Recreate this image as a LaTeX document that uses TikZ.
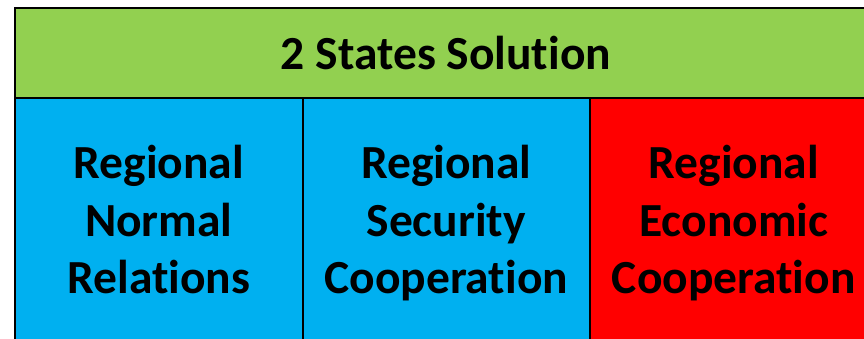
\documentclass[tikz,border=0pt]{standalone}
\usepackage{fontspec}
\setmainfont{Carlito}[Ligatures=NoCommon]
\usetikzlibrary{positioning}
\definecolor{verde}{HTML}{92D050}
\definecolor{azul}{HTML}{00B0F0}
\definecolor{vermelho}{HTML}{FF0000}
\begin{document}
\begin{tikzpicture}[x=1pt, y=-1pt,
                topo/.style={draw=black, line width=2pt, fill=verde, minimum width=862pt, minimum height=90pt, inner sep=0pt, font=\fontsize{47.5}{54}\selectfont\bfseries},
                celula/.style={draw=black, line width=2pt, minimum width=287.5pt, minimum height=244pt, inner sep=0pt},
                texto/.style={align=center, inner sep=0pt, font=\fontsize{47.5}{57.5}\selectfont\bfseries},
            ]
            \useasboundingbox (0,0) rectangle (864,338);
            \clip (0,0) rectangle (864,338);
            \node[topo] (solucao) at (446, 53) {2 States Solution};
            \node[celula, fill=azul] (normal) at (158.75, 220) {};
            \node[celula, fill=azul] (seguranca) at (446.25, 220) {};
            \node[celula, fill=vermelho] (economia) at (733.75, 220) {};

            \node[texto, below=48pt of normal.north] (tnormal) {Regional\\Normal\\Relations};
            \node[texto, below=48pt of seguranca.north] (tseguranca) {Regional\\Security\\Cooperation};
            \node[texto, below=48pt of economia.north] (teconomia) {Regional\\Economic\\Cooperation};
        \end{tikzpicture}
\end{document}
